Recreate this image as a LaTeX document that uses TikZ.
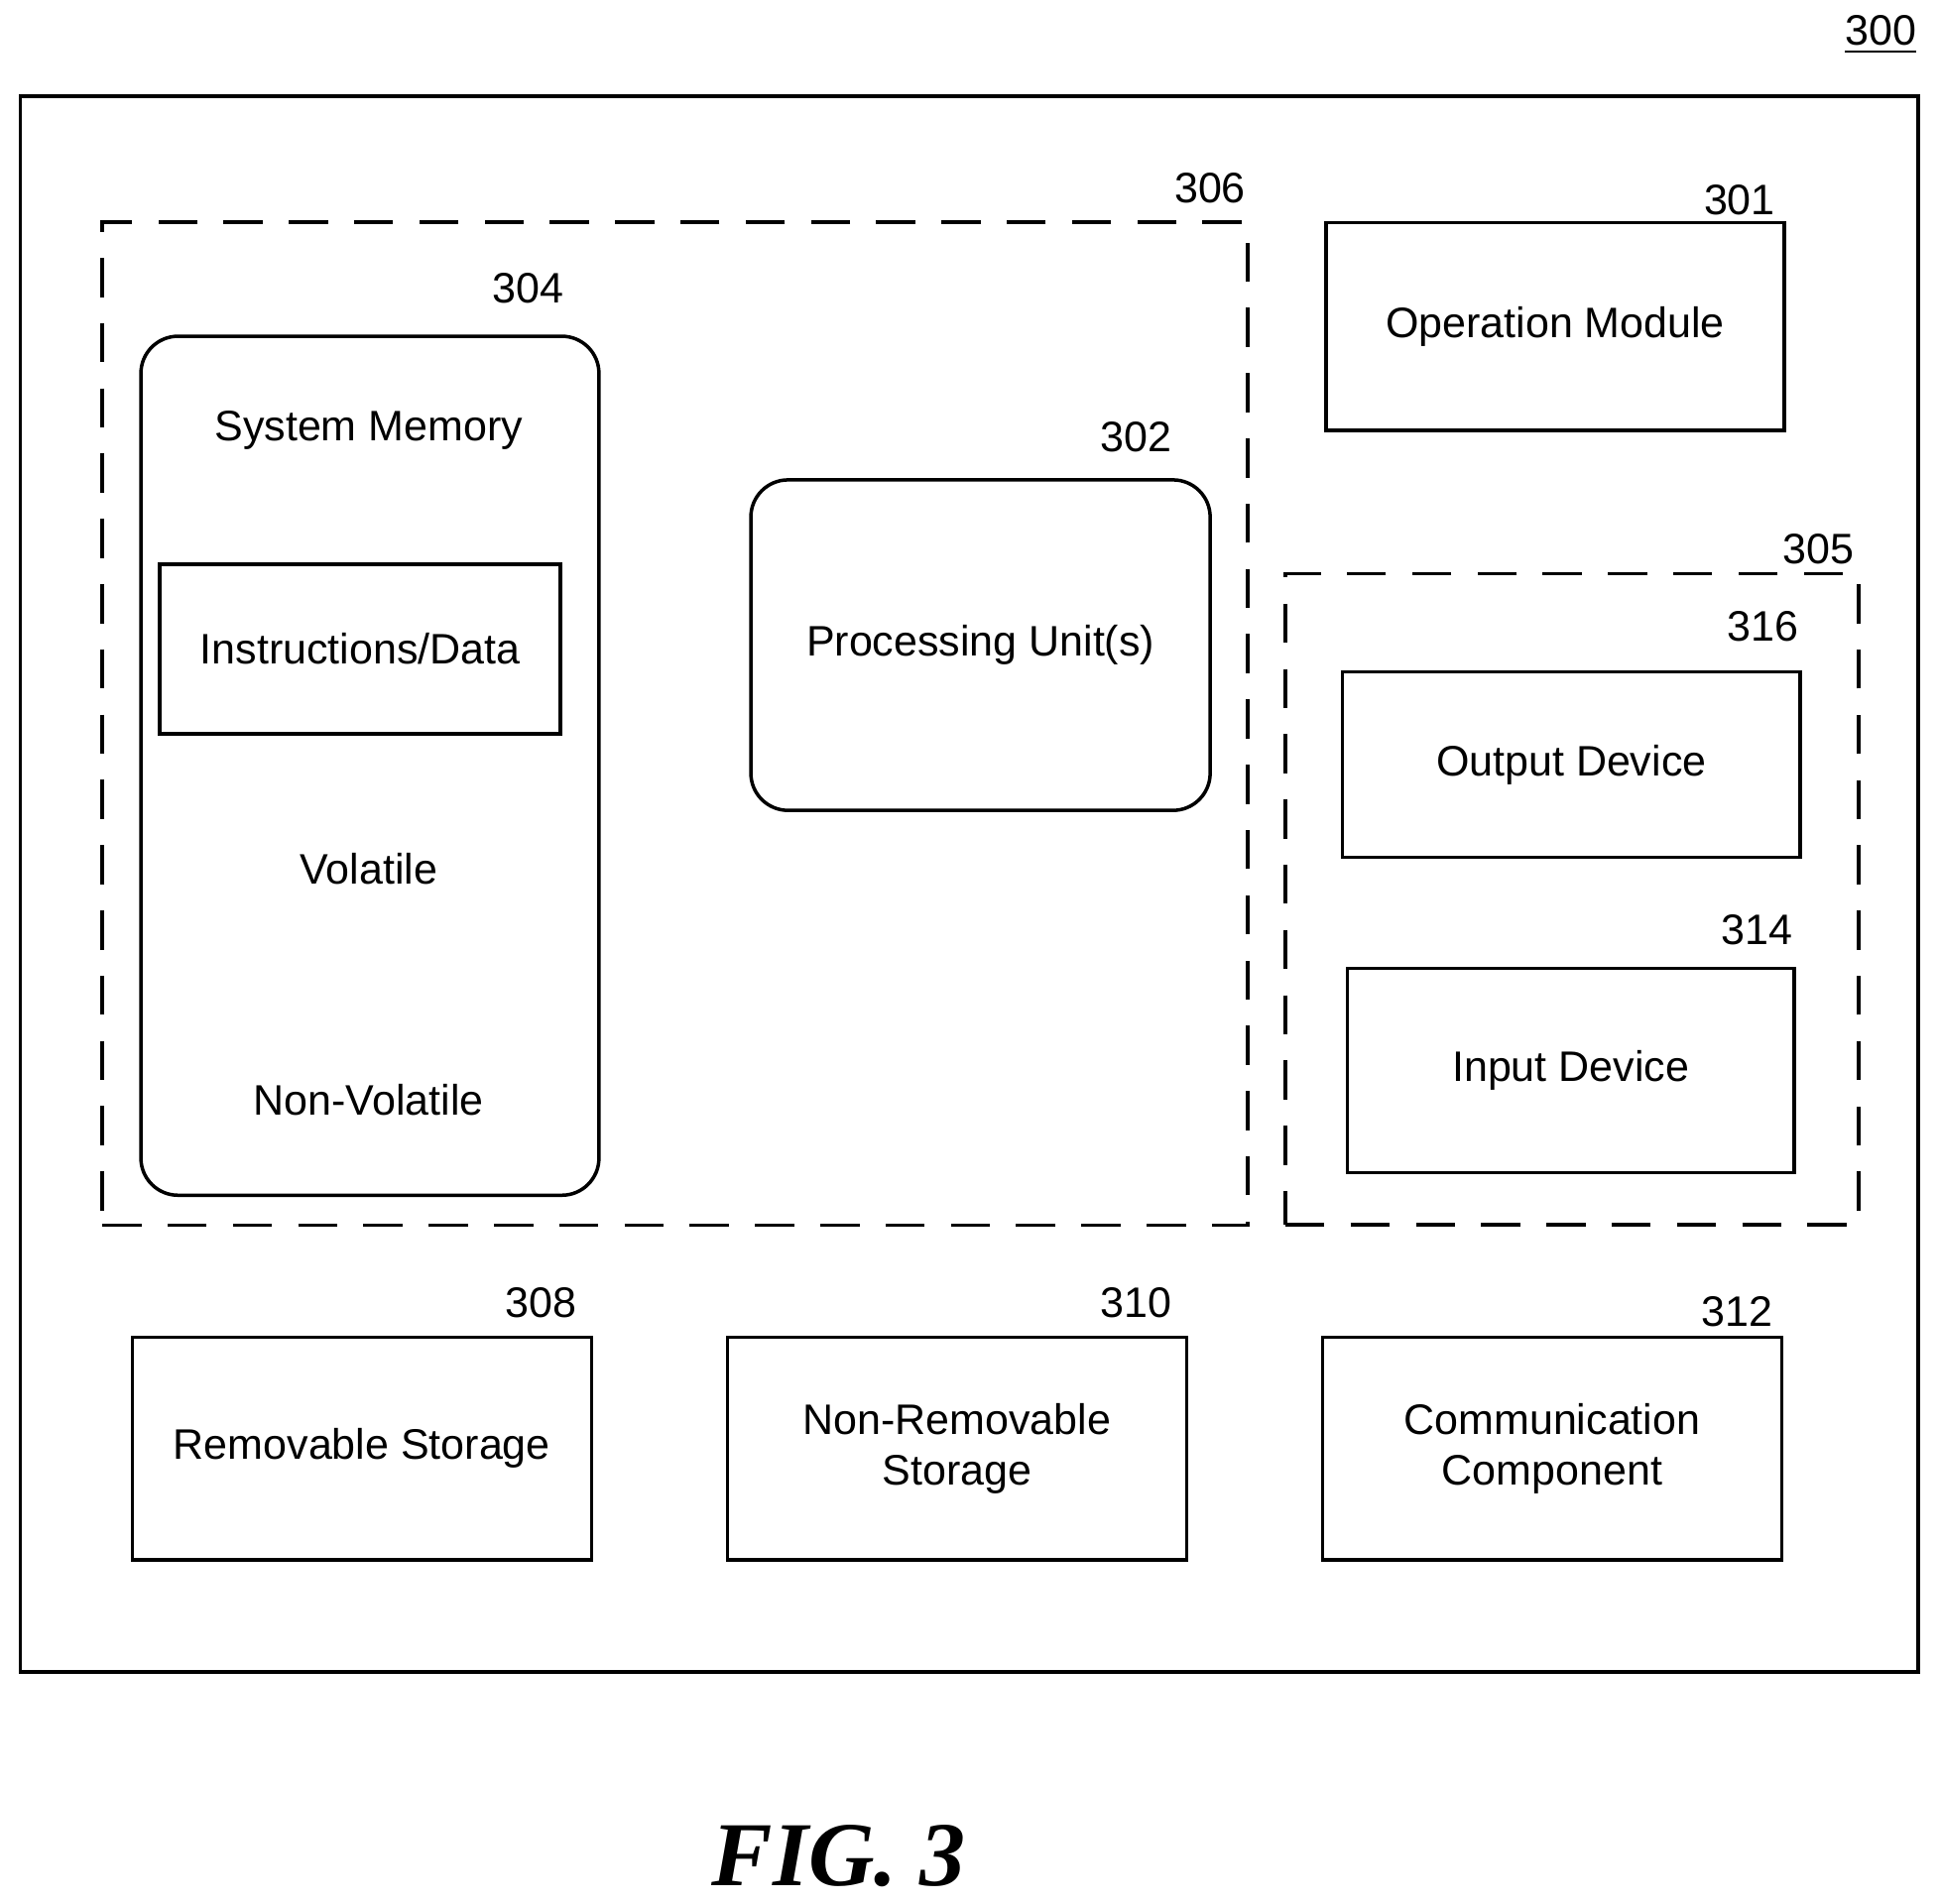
\documentclass[tikz,border=0pt]{standalone}
\usepackage{fontspec}
\setmainfont{Liberation Sans}
\newfontfamily\figfont{Liberation Serif}
\usetikzlibrary{positioning}
\begin{document}
\begin{tikzpicture}[x=0.01cm, y=-0.01cm, font=\fontsize{9.8}{11.8}\selectfont]
    \tikzstyle{blk} = [draw, thick, inner sep = 0pt, align = center]
    \tikzstyle{rnd} = [blk, rounded corners = 0.3cm]
    \tikzstyle{grp} = [draw, thick, dash pattern = on 9pt off 6pt, inner sep = 0pt]
    \tikzstyle{num} = [inner sep = 1pt]
    \useasboundingbox (0,0) rectangle (1568,1539);
    %% Frame
    \node [blk, minimum width = 15.33cm, minimum height = 12.73cm] (dev) at (783.5,714.5) {};
    \node [num] (l300) at (1520,28) {\underline{300}};
    %% Groups
    \node [grp, minimum width = 9.25cm, minimum height = 8.10cm] (core) at (545.5,585) {};
    \node [num] (l306) at (978,152) {306};
    \node [grp, minimum width = 4.63cm, minimum height = 5.26cm] (io) at (1270.5,727) {};
    \node [num] (l305) at (1470,444) {305};
    %% Memory
    \node [rnd, minimum width = 3.70cm, minimum height = 6.94cm] (mem) at (299,619) {};
    \node [num] (l304) at (427,233) {304};
    \node (smem) at (298,348) {System Memory};
    \node [blk, minimum width = 3.24cm, minimum height = 1.37cm] (instr) at (291,524.5) {Instructions/Data};
    \node (vol) at (298,702) {Volatile};
    \node (nvol) at (298,889) {Non-Volatile};
    %% Processing unit
    \node [rnd, minimum width = 3.71cm, minimum height = 2.67cm] (cpu) at (792.5,521.5) {Processing Unit(s)};
    \node [num] (l302) at (918,353) {302};
    %% Operation module
    \node [blk, minimum width = 3.70cm, minimum height = 1.68cm] (opm) at (1257,264) {Operation Module};
    \node [num] (l301) at (1406,162) {301};
    %% Output / Input
    \node [blk, minimum width = 3.70cm, minimum height = 1.50cm] (out) at (1270,618) {Output Device};
    \node [num] (l316) at (1425,506) {316};
    \node [blk, minimum width = 3.61cm, minimum height = 1.65cm] (inp) at (1269.5,865.5) {Input Device};
    \node [num] (l314) at (1420,752) {314};
    %% Storage and communication
    \node [blk, minimum width = 3.71cm, minimum height = 1.80cm] (rem) at (292.5,1171) {Removable Storage};
    \node [num] (l308) at (437,1053) {308};
    \node [blk, minimum width = 3.71cm, minimum height = 1.80cm] (nrem) at (773.5,1171) {Non-Removable\\Storage};
    \node [num] (l310) at (918,1053) {310};
    \node [blk, minimum width = 3.71cm, minimum height = 1.80cm] (comm) at (1254.5,1171) {Communication\\Component};
    \node [num] (l312) at (1404,1060) {312};
    %% Caption
    \node (fig) at (678,1500) {\figfont\bfseries\itshape\fontsize{21}{25}\selectfont FIG. 3};
\end{tikzpicture}
\end{document}
